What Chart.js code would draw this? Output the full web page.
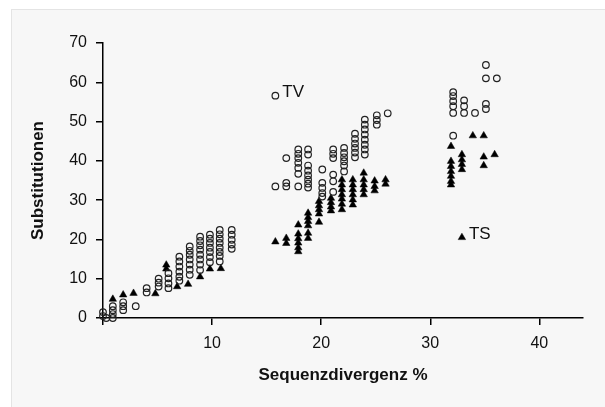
<!DOCTYPE html>
<html>
<head>
<meta charset="utf-8">
<script src="https://cdn.jsdelivr.net/npm/chart.js@4/dist/chart.umd.min.js"></script>
<style>
  html, body { margin: 0; padding: 0; background: #ffffff; }
  #wrap { position: relative; width: 605px; height: 407px; overflow: hidden; }
  #panel { position: absolute; left: 11px; top: 9px; right: -2px; bottom: -2px;
           background: #f7f7f7; border: 1px solid #e4e4e4; }
  #c { position: absolute; left: 0; top: 0; }
</style>
</head>
<body>
<div id="wrap">
  <div id="panel"></div>
  <canvas id="c" width="605" height="407"></canvas>
</div>
<script>
// ---- Data ----
// TV (transversions): sequence divergence % and substitutions
const tvDivergence = [
  0, 0, 0.3,
  0.9, 0.9, 0.9, 0.9,
  1.85, 1.85, 1.85,
  3.0,
  4.0, 4.0,
  5.1, 5.1, 5.1,
  6.0, 6.0, 6.0, 6.0,
  7.0, 7.0, 7.0, 7.0, 7.0, 7.0,
  7.95, 7.95, 7.95, 7.95, 7.95, 7.95, 7.95,
  8.9, 8.9, 8.9, 8.9, 8.9, 8.9, 8.9, 8.9,
  9.8, 9.8, 9.8, 9.8, 9.8, 9.8, 9.8,
  10.7, 10.7, 10.7, 10.7, 10.7, 10.7, 10.7, 10.7,
  11.8, 11.8, 11.8, 11.8, 11.8,
  15.8,
  16.8, 16.8, 16.8,
  17.9, 17.9, 17.9, 17.9, 17.9, 17.9, 17.9,
  18.8, 18.8, 18.8, 18.8, 18.8, 18.8, 18.8, 18.8,
  20.1, 20.1, 20.1, 20.1, 20.1,
  21.1, 21.1, 21.1, 21.1, 21.1, 21.1,
  22.1, 22.1, 22.1, 22.1, 22.1, 22.1,
  23.1, 23.1, 23.1, 23.1, 23.1, 23.1,
  24.0, 24.0, 24.0, 24.0, 24.0, 24.0, 24.0, 24.0,
  25.1, 25.1, 25.1,
  26.1,
  32.1, 32.1, 32.1, 32.1, 32.1, 32.1,
  33.1, 33.1, 33.1,
  34.1,
  35.1, 35.1, 35.1, 35.1,
  36.1
];
const tvSubstitutions = [
  0.5, 1.5, 0,
  0, 1, 2, 3,
  2, 3, 4,
  3,
  6.5, 7.6,
  8, 9, 10,
  7.6, 8.8, 10.1, 11.4,
  9.5, 10.5, 11.8, 13.1, 14.4, 15.6,
  11, 12.3, 13.6, 14.9, 16.1, 17.1, 18.2,
  12.2, 13.6, 14.9, 16.1, 17.4, 18.5, 19.6, 20.7,
  14.2, 15.5, 16.8, 17.9, 19.1, 20.2, 21.2,
  14.4, 15.8, 16.8, 17.9, 19.1, 20.2, 21.3, 22.4,
  17.6, 18.7, 19.9, 21.2, 22.4,
  33.5,
  40.7, 34.4, 33.5,
  42.9, 41.8, 40.7, 39.5, 38.2, 36.7, 33.5,
  42.9, 41.6, 38.8, 37.5, 36.3, 35.2, 34.2, 33.2,
  37.8, 34.4, 33.1, 31.8, 30.9,
  42.9, 41.8, 40.7, 36.5, 34.8, 32.1,
  43.3, 42, 40.9, 39.9, 38.8, 37.3,
  46.9, 45.6, 44.4, 43.3, 42.1, 40.9,
  50.5, 49.2, 48, 46.7, 45.4, 44.1, 42.9, 41.6,
  51.6, 50.4, 49.2,
  52.1,
  57.5, 56.5, 55.2, 53.9, 52.2, 46.4,
  55.4, 53.9, 52.2,
  52.2,
  64.4, 61, 54.5, 53.2,
  61
];

// TS (transitions)
const tsDivergence = [
  0.9, 1.85, 2.8, 4.8,
  5.8, 5.8,
  6.8, 7.8, 8.9, 9.8, 10.8,
  15.8,
  16.8, 16.8,
  17.9, 17.9, 17.9, 17.9, 17.9, 17.9,
  18.8, 18.8, 18.8, 18.8, 18.8, 18.8,
  19.8, 19.8, 19.8, 19.8, 19.8,
  20.9, 20.9, 20.9, 20.9,
  21.9, 21.9, 21.9, 21.9, 21.9, 21.9, 21.9,
  22.9, 22.9, 22.9, 22.9, 22.9, 22.9,
  23.9, 23.9, 23.9, 23.9, 23.9,
  24.9, 24.9, 24.9,
  25.9, 25.9,
  31.9, 31.9, 31.9, 31.9, 31.9, 31.9, 31.9,
  32.9, 32.9, 32.9, 32.9,
  33.9,
  34.9, 34.9, 34.9,
  35.9
];
const tsSubstitutions = [
  4.8, 5.9, 6.3, 6.2,
  13.5, 12.5,
  8, 8.6, 10.5, 12.5, 12.6,
  19.4,
  20.3, 19,
  23.7, 21.4, 20.2, 19.1, 17.9, 16.9,
  26.7, 25.6, 24.6, 23.5, 21.6, 20.3,
  29.7, 28.6, 27.6, 26.5, 24.4,
  30.5, 29.4, 28.3, 27.3,
  35.2, 33.9, 32.7, 31.4, 30.3, 29, 27.6,
  35.2, 33.9, 32.7, 31.4, 30.1, 28.8,
  36.9, 35.2, 33.9, 32.7, 31.4,
  34.9, 33.5, 32.4,
  35.2, 34.1,
  43.7, 39.9, 38.6, 37.3, 36.1, 34.8, 33.9,
  41.6, 40.3, 39.1, 37.8,
  46.4,
  46.4, 41, 38.8,
  41.6
];

// In-plot key markers (data coordinates) and their texts
const keyLabels = ['TV', 'TS'];
const keyDivergence = [15.8, 32.9];
const keySubstitutions = [56.6, 20.5];

// Axes
const xTickValues = [0, 10, 20, 30, 40];
const xTickLabels = ['', '10', '20', '30', '40'];
const yTickValues = [0, 10, 20, 30, 40, 50, 60, 70];
const yTickLabels = ['0', '10', '20', '30', '40', '50', '60', '70'];
const xTitle = 'Sequenzdivergenz %';
const yTitle = 'Substitutionen';

// ---- Build ----
const zip = (xs, ys) => xs.map((x, i) => ({ x: x, y: ys[i] }));
const FONT = "'Liberation Sans', Arial, Helvetica, sans-serif";

const circleStyle = {
  pointStyle: 'circle', pointRadius: 3.3, pointBorderWidth: 1.2,
  pointBackgroundColor: 'rgba(0,0,0,0)', pointBorderColor: '#222'
};
const triStyle = {
  pointStyle: 'triangle', pointRadius: 4.3, pointBorderWidth: 0.5,
  pointBackgroundColor: '#000', pointBorderColor: '#000'
};

const keyTextPlugin = {
  id: 'keyText',
  afterDatasetsDraw(chart) {
    const ctx = chart.ctx;
    const xs = chart.scales.x, ys = chart.scales.y;
    ctx.save();
    ctx.font = '17px ' + FONT;
    ctx.fillStyle = '#111';
    ctx.textAlign = 'left';
    ctx.textBaseline = 'middle';
    keyLabels.forEach((t, i) => {
      const px = xs.getPixelForValue(keyDivergence[i]);
      const py = ys.getPixelForValue(keySubstitutions[i]);
      ctx.fillText(t, px + 7, py - 3);
    });
    ctx.restore();
  }
};

new Chart(document.getElementById('c'), {
  type: 'scatter',
  data: {
    datasets: [
      Object.assign({ label: 'TV', data: zip(tvDivergence, tvSubstitutions), clip: false }, circleStyle),
      Object.assign({ label: 'TS', data: zip(tsDivergence, tsSubstitutions), clip: false }, triStyle),
      Object.assign({ label: 'TV key', data: [{ x: keyDivergence[0], y: keySubstitutions[0] }], clip: false }, circleStyle),
      Object.assign({ label: 'TS key', data: [{ x: keyDivergence[1], y: keySubstitutions[1] }], clip: false }, triStyle)
    ]
  },
  options: {
    responsive: false,
    animation: false,
    devicePixelRatio: 1,
    layout: { padding: { left: 0, right: 22, top: 43, bottom: 0 } },
    plugins: { legend: { display: false }, tooltip: { enabled: false } },
    scales: {
      x: {
        type: 'linear', position: 'bottom', min: 0, max: 44,
        afterBuildTicks: s => { s.ticks = xTickValues.map(v => ({ value: v })); },
        afterFit: s => { s.height = 89; },
        ticks: {
          color: '#111', font: { family: FONT, size: 16 }, padding: 9,
          maxRotation: 0, autoSkip: false,
          callback: (v) => { const i = xTickValues.indexOf(v); return i >= 0 ? xTickLabels[i] : ''; }
        },
        grid: { display: true, drawOnChartArea: false, drawTicks: true, tickLength: 7, color: '#000', lineWidth: 1.5 },
        border: { display: true, color: '#000', width: 1.5 },
        title: { display: true, text: xTitle, color: '#111',
                 font: { family: FONT, size: 17, weight: 'bold' }, padding: { top: 0, bottom: 21 } }
      },
      y: {
        type: 'linear', position: 'left', min: 0, max: 70,
        afterBuildTicks: s => { s.ticks = yTickValues.map(v => ({ value: v })); },
        afterFit: s => { s.width = 103; },
        ticks: {
          color: '#111', font: { family: FONT, size: 16 }, padding: 9, autoSkip: false,
          callback: (v) => { const i = yTickValues.indexOf(v); return i >= 0 ? yTickLabels[i] : ''; }
        },
        grid: { display: true, drawOnChartArea: false, drawTicks: true, tickLength: 7, color: '#000', lineWidth: 1.5 },
        border: { display: true, color: '#000', width: 1.5 },
        title: { display: true, text: yTitle, color: '#111',
                 font: { family: FONT, size: 17, weight: 'bold' }, padding: { top: 28, bottom: 0 } }
      }
    }
  },
  plugins: [keyTextPlugin]
});
</script>
</body>
</html>
